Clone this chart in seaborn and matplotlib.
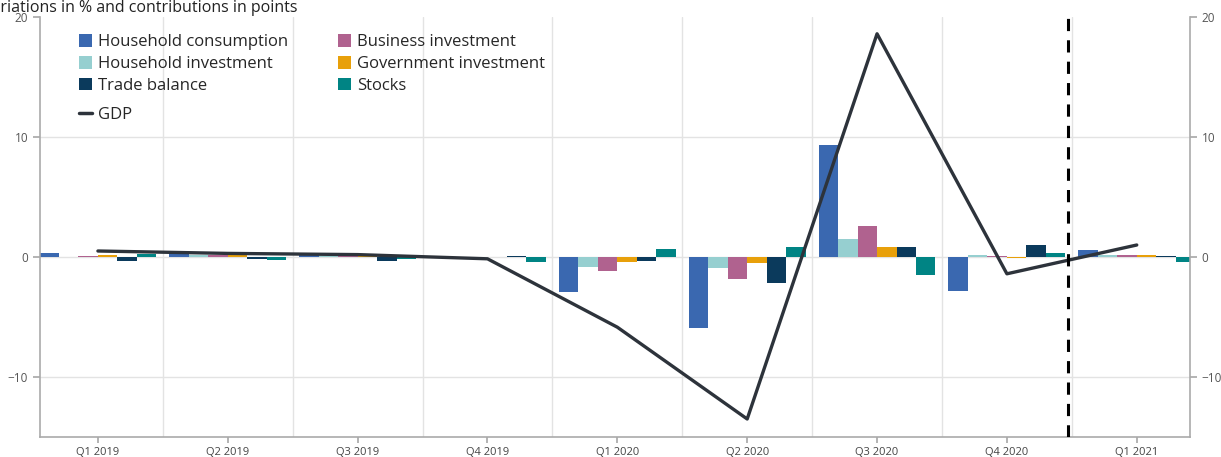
import numpy as np
import pandas as pd
import matplotlib
matplotlib.use("Agg")
import matplotlib.pyplot as plt
import seaborn as sns
from matplotlib.patches import Patch
from matplotlib.lines import Line2D

quarters = ["Q1 2019", "Q2 2019", "Q3 2019", "Q4 2019", "Q1 2020",
            "Q2 2020", "Q3 2020", "Q4 2020", "Q1 2021"]
household_consumption = [0.3, 0.3, 0.15, 0.1, -2.9, -5.9, 9.35, -2.85, 0.6]
household_investment = [0.02, 0.15, 0.05, 0.03, -0.8, -0.9, 1.5, 0.2, 0.15]
business_investment = [0.1, 0.15, 0.1, 0.02, -1.2, -1.85, 2.6, 0.1, 0.2]
government_investment = [0.15, 0.15, 0.1, 0.02, -0.4, -0.5, 0.85, -0.1, 0.15]
trade_balance = [-0.35, -0.2, -0.35, 0.05, -0.3, -2.2, 0.85, 1.0, 0.1]
stocks = [0.25, -0.25, -0.15, -0.45, 0.7, 0.85, -1.5, 0.35, -0.45]
gdp = [0.5, 0.3, 0.2, -0.15, -5.85, -13.5, 18.6, -1.4, 1.0]

series_names = ["Household consumption", "Household investment", "Business investment",
                "Government investment", "Trade balance", "Stocks"]
series_values = [household_consumption, household_investment, business_investment,
                 government_investment, trade_balance, stocks]
colors = ["#3A68B0", "#96CFD0", "#B0628F", "#E8A00A", "#0B3A5C", "#008484"]
gdp_color = "#2D333B"

rows = []
for name, vals in zip(series_names, series_values):
    for q, v in zip(quarters, vals):
        rows.append({"quarter": q, "component": name, "value": v})
df = pd.DataFrame(rows)

sns.set_theme(style="white")
plt.rcParams["font.family"] = ["Open Sans", "DejaVu Sans"]

fig = plt.figure(figsize=(12.21, 4.57), dpi=100)
ax = fig.add_axes([40/1221, 1-437/457, (1190-40)/1221, (437-17)/457])

sns.barplot(data=df, x="quarter", y="value", hue="component", order=quarters,
            hue_order=series_names, palette=colors, width=0.9, ax=ax,
            saturation=1, legend=False)
for p in ax.patches:
    p.set_edgecolor("none")

x = np.arange(len(quarters))
sns.lineplot(x=x, y=gdp, color=gdp_color, lw=2.4, ax=ax, zorder=5)

ax.set_xlim(-0.446, 8.41)
ax.set_ylim(-15, 20)
ax.set_yticks([-10, 0, 10, 20])
ax.set_yticklabels(["\u221210", "0", "10", "20"])
ax.set_xticks(x)
ax.set_xticklabels(quarters)
ax.set_xlabel("")
ax.set_ylabel("")

# grid
for yv in [-10, 0, 10]:
    ax.axhline(yv, color="#e3e3e3", lw=1, zorder=0)
for xv in np.arange(0.5, len(quarters) - 1, 1.0):
    ax.axvline(xv, color="#e3e3e3", lw=1, zorder=0)
ax.axvline(7.47, color="black", lw=2.2, ls=(0, (4, 3)), zorder=6)

for s in ["left", "bottom", "right"]:
    ax.spines[s].set_color("#aaaaaa")
    ax.spines[s].set_linewidth(1.2)
ax.spines["top"].set_visible(False)

ax.tick_params(axis="x", length=4, color="#aaaaaa", labelsize=8, labelcolor="#444444", pad=3, direction="out", bottom=True)
ax.tick_params(axis="y", length=5, color="#aaaaaa", labelsize=8.5, labelcolor="#555555", direction="out", left=True, right=True, labelright=True)

handles = [Patch(facecolor=c, edgecolor="none") for c in colors]
leg_handles = [handles[0], handles[1], handles[4], handles[2], handles[3], handles[5]]
leg_labels = [series_names[0], series_names[1], series_names[4],
              series_names[2], series_names[3], series_names[5]]
leg_kw = dict(frameon=False, fontsize=12, handlelength=0.8, handleheight=0.8,
              handletextpad=0.35, labelspacing=0.33, borderaxespad=0)
leg = ax.legend(leg_handles, leg_labels, ncol=2, loc="upper left",
                bbox_to_anchor=(0.028, 0.975), columnspacing=3.0, **leg_kw)
ax.add_artist(leg)
ax.legend([Line2D([], [], color=gdp_color, lw=2.5)], ["GDP"], loc="upper left",
          bbox_to_anchor=(0.028, 0.801), **leg_kw)

fig.text(298/1221, 1-12.5/457, "Quarterly variations in % and contributions in points",
         ha="right", va="baseline", fontsize=11.5, color="#222222")

fig.savefig("out.png", dpi=100)
